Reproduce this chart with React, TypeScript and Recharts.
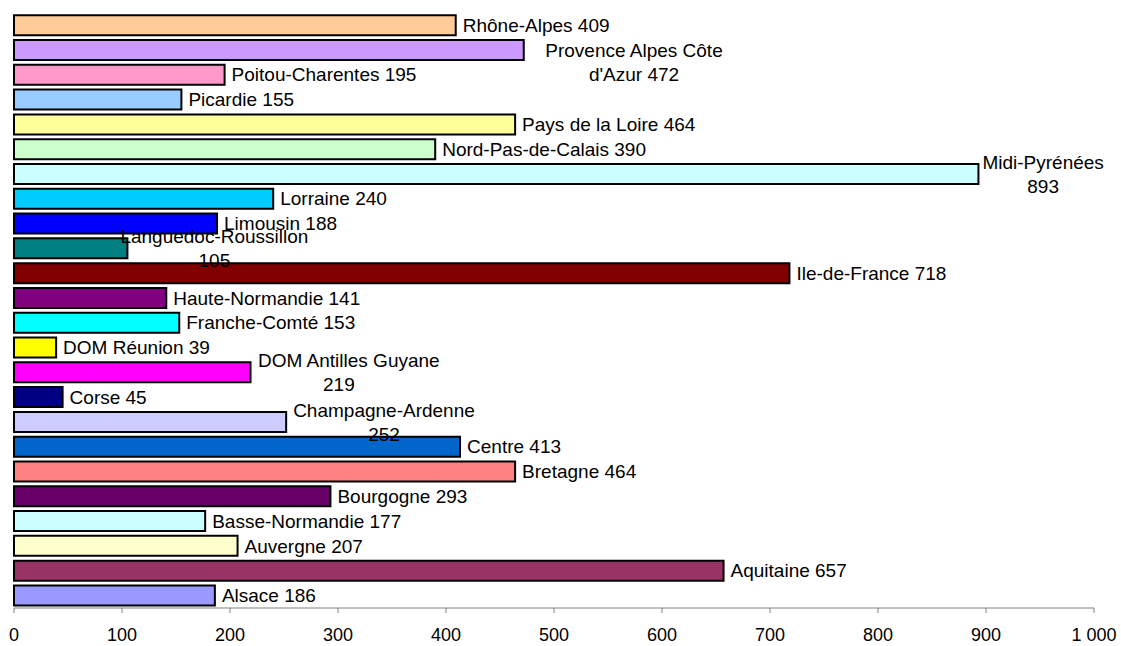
import React from "react";
import { BarChart, Bar, XAxis, YAxis, Cell, LabelList } from "recharts";

// regions, alphabetical (drawn bottom to top)
const regions = [
  "Alsace", "Aquitaine", "Auvergne", "Basse-Normandie", "Bourgogne", "Bretagne",
  "Centre", "Champagne-Ardenne", "Corse", "DOM Antilles Guyane", "DOM Réunion",
  "Franche-Comté", "Haute-Normandie", "Ile-de-France", "Languedoc-Roussillon",
  "Limousin", "Lorraine", "Midi-Pyrénées", "Nord-Pas-de-Calais", "Pays de la Loire",
  "Picardie", "Poitou-Charentes", "Provence Alpes Côte d'Azur", "Rhône-Alpes",
];
const counts = [
  186, 657, 207, 177, 293, 464, 413, 252, 45, 219, 39, 153, 141, 718, 105,
  188, 240, 893, 390, 464, 155, 195, 472, 409,
];
const barColors = [
  "#9999FF", "#993366", "#FFFFCC", "#CCFFFF", "#660066", "#FF8080", "#0066CC",
  "#CCCCFF", "#000080", "#FF00FF", "#FFFF00", "#00FFFF", "#800080", "#800000",
  "#008080", "#0000FF", "#00CCFF", "#CCFFFF", "#CCFFCC", "#FFFF99", "#99CCFF",
  "#FF99CC", "#CC99FF", "#FFCC99",
];
const xTicks = [0, 100, 200, 300, 400, 500, 600, 700, 800, 900, 1000];

// labels that wrap onto two lines: [first line, second line]
const wrapped: Record<string, [string, string]> = {
  "Provence Alpes Côte d'Azur": ["Provence Alpes Côte", "d'Azur 472"],
  "Midi-Pyrénées": ["Midi-Pyrénées", "893"],
  "Languedoc-Roussillon": ["Languedoc-Roussillon", "105"],
  "DOM Antilles Guyane": ["DOM Antilles Guyane", "219"],
  "Champagne-Ardenne": ["Champagne-Ardenne", "252"],
};
// label placement tweaks (px)
const labelGap: Record<string, number> = {
  "Provence Alpes Côte d'Azur": 21,
  "Midi-Pyrénées": 4,
  "Languedoc-Roussillon": -7,
};
const labelDy: Record<string, number> = {
  "Provence Alpes Côte d'Azur": 12,
};
const line2Dx: Record<string, number> = {
  "DOM Antilles Guyane": -10,
};

const data = regions.map((name, i) => ({ name, value: counts[i] }));

const FONT = "'Liberation Sans', Arial, sans-serif";
const LABEL_SIZE = 19;

let ctx: CanvasRenderingContext2D | null = null;
function textWidth(s: string) {
  if (!ctx) ctx = document.createElement("canvas").getContext("2d");
  if (!ctx) return s.length * 10;
  ctx.font = `${LABEL_SIZE}px 'Liberation Sans'`;
  return ctx.measureText(s).width;
}

const renderLabel = (props: any) => {
  const { x, y, width, height, index } = props;
  const d = data[index];
  const end = Number(x) + Number(width);
  const cy = Number(y) + Number(height) / 2 + (labelDy[d.name] || 0);
  const lines = wrapped[d.name];
  if (!lines) {
    return (
      <text x={end + 7} y={cy} dy="0.35em" fontSize={LABEL_SIZE} fontFamily={FONT} fill="#000">
        {`${d.name} ${d.value}`}
      </text>
    );
  }
  const gap = labelGap[d.name] ?? 7;
  const cx = end + gap + textWidth(lines[0]) / 2;
  return (
    <text x={cx} y={cy} textAnchor="middle" fontSize={LABEL_SIZE} fontFamily={FONT} fill="#000">
      <tspan x={cx} dy={-5}>{lines[0]}</tspan>
      <tspan x={cx + (line2Dx[d.name] || 0)} dy={24}>{lines[1]}</tspan>
    </text>
  );
};

export default function App() {
  return (
    <div style={{ position: "absolute", left: 0, top: 0, width: 1121, height: 646, background: "#fff" }}>
      <BarChart
        width={1121}
        height={646}
        data={data}
        layout="vertical"
        margin={{ top: 13, right: 27, left: 14, bottom: 0 }}
        barCategoryGap="9%"
      >
        <XAxis
          type="number"
          domain={[0, 1000]}
          ticks={xTicks}
          interval={0}
          height={38}
          tickSize={5}
          tickMargin={15}
          stroke="#808080"
          tick={{ fill: "#000", fontSize: 18, fontFamily: FONT }}
          tickFormatter={(v: number) => (v >= 1000 ? "1 000" : String(v))}
        />
        <YAxis type="category" dataKey="name" reversed hide width={0} />
        <Bar dataKey="value" stroke="#000" strokeWidth={2} isAnimationActive={false}>
          {data.map((d, i) => (
            <Cell key={d.name} fill={barColors[i]} />
          ))}
          <LabelList dataKey="name" content={renderLabel} />
        </Bar>
      </BarChart>
    </div>
  );
}
